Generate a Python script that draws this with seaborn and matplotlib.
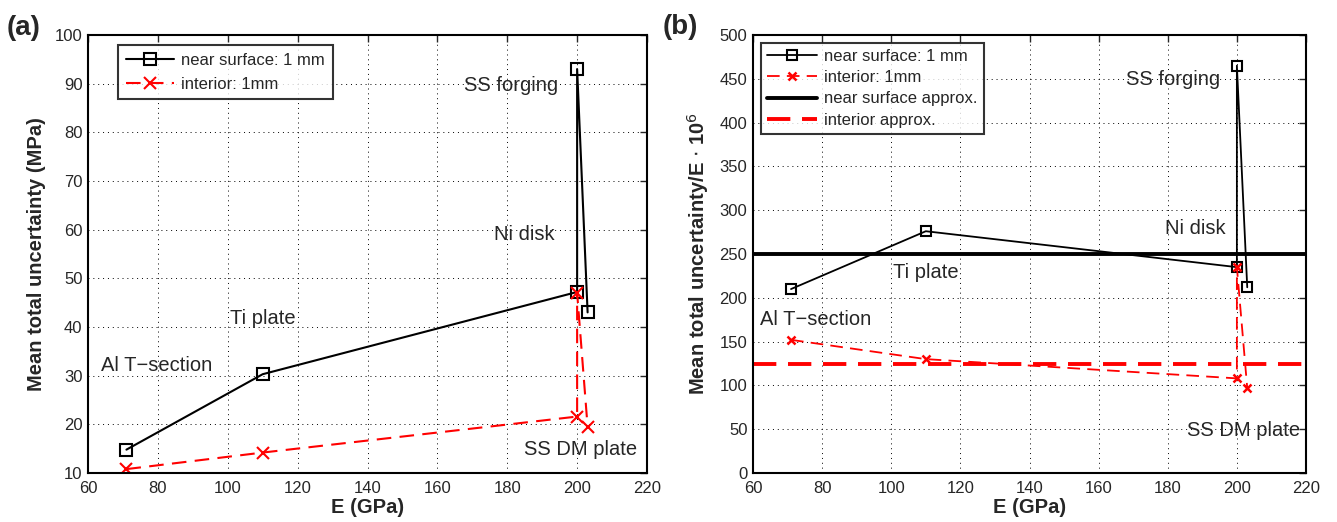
import matplotlib
matplotlib.use("Agg")
import matplotlib.pyplot as plt
import seaborn as sns
import numpy as np

sns.set_style("white")
plt.rcParams['font.family'] = ['Liberation Sans', 'DejaVu Sans']

# ---- data ----
E = [71, 110, 200, 200, 203]   # Al T-section, Ti plate, Ni disk, SS forging, SS DM plate
E_near = [71, 110, 200, 200, 203]
a_near = [14.8, 30.3, 47.2, 93.0, 43.0]
a_interior = [10.8, 14.2, 21.6, 47.0, 19.5]
b_near = [210, 276, 235, 465, 212]
b_interior = [152, 130, 108, 235, 97]
b_near_approx = [250]
b_interior_approx = [125]

labels_a = ["SS forging", "Ni disk", "Ti plate", "Al T\u2212section", "SS DM plate"]
pos_a = [(181, 89.7), (185, 59), (110, 41.8), (79.5, 32), (201, 14.9)]
labels_b = labels_a
pos_b = [(181.5, 449), (188, 279), (110, 229), (78, 175), (202, 49)]

fig = plt.figure(figsize=(13.37, 5.22), dpi=100)
ax1 = fig.add_axes([88/1337, 1-473/522, (647-88)/1337, (473-35)/522])
ax2 = fig.add_axes([753/1337, 1-473/522, (1306-753)/1337, (473-35)/522])


def style(ax, ylim, yticks, ylabel):
    ax.set_xlim(60, 220)
    ax.set_ylim(*ylim)
    ax.set_xticks(np.arange(60, 221, 20))
    ax.set_yticks(yticks)
    ax.grid(True, color='black', linestyle=(0, (1, 4)), linewidth=0.7)
    ax.tick_params(direction='in', top=True, right=True, length=5, width=1, labelsize=12)
    ax.tick_params(axis='x', pad=6)
    ax.tick_params(axis='y', pad=4)
    for s in ax.spines.values():
        s.set_linewidth(1.5)
        s.set_color('black')
    ax.set_xlabel("E (GPa)", fontsize=14.5, fontweight='bold', labelpad=1)
    ax.set_ylabel(ylabel, fontsize=14.5, fontweight='bold', labelpad=6)


sns.lineplot(x=E_near, y=a_near, sort=False, estimator=None, ax=ax1, color='black', marker='s',
             markersize=9, markerfacecolor='none', markeredgecolor='black', markeredgewidth=1.5,
             linewidth=1.5, label='near surface: 1 mm')
sns.lineplot(x=E, y=a_interior, sort=False, estimator=None, ax=ax1, color='red', marker='x',
             markersize=9, markeredgecolor='red', markeredgewidth=1.5, linewidth=1.5,
             linestyle=(0, (7, 4)), label='interior: 1mm')
style(ax1, (10, 100), np.arange(10, 101, 10), "Mean total uncertainty (MPa)")
for t, (x, y) in zip(labels_a, pos_a):
    ax1.text(x, y, t, fontsize=14.5, ha='center', va='center')
leg1 = ax1.legend(loc='upper left', bbox_to_anchor=(0.0537, 0.977), borderaxespad=0,
                  fontsize=12, frameon=True, fancybox=False, edgecolor='black',
                  handlelength=2.9, handletextpad=0.45, borderpad=0.45, labelspacing=0.55)
leg1.get_frame().set_linewidth(1.5)

sns.lineplot(x=E_near, y=b_near, sort=False, estimator=None, ax=ax2, color='black', marker='s',
             markersize=7, markerfacecolor='none', markeredgecolor='black', markeredgewidth=1.5,
             linewidth=1.3, label='near surface: 1 mm')
sns.lineplot(x=E, y=b_interior, sort=False, estimator=None, ax=ax2, color='red', marker='x',
             markersize=6, markeredgecolor='red', markeredgewidth=1.8, linewidth=1.3,
             linestyle=(0, (7, 4)), label='interior: 1mm')
for v in b_near_approx:
    ax2.axhline(v, color='black', linewidth=2.8, label='near surface approx.')
for v in b_interior_approx:
    ax2.axhline(v, color='red', linewidth=2.8, linestyle=(0, (6, 3)), label='interior approx.')
style(ax2, (0, 500), np.arange(0, 501, 50), "Mean total uncertainty/E $\\cdot$ 10$^6$")
for t, (x, y) in zip(labels_b, pos_b):
    ax2.text(x, y, t, fontsize=14.5, ha='center', va='center')
leg2 = ax2.legend(loc='upper left', bbox_to_anchor=(0.0145, 0.982), borderaxespad=0,
                  fontsize=12, frameon=True, fancybox=False, edgecolor='black',
                  handlelength=3.0, handletextpad=0.45, borderpad=0.35, labelspacing=0.38)
leg2.get_frame().set_linewidth(1.5)

fig.text(7/1337, 1-28/522, "(a)", fontsize=20, fontweight='bold', va='center', ha='left')
fig.text(663/1337, 1-27/522, "(b)", fontsize=20, fontweight='bold', va='center', ha='left')

fig.savefig("out.png", dpi=100)
